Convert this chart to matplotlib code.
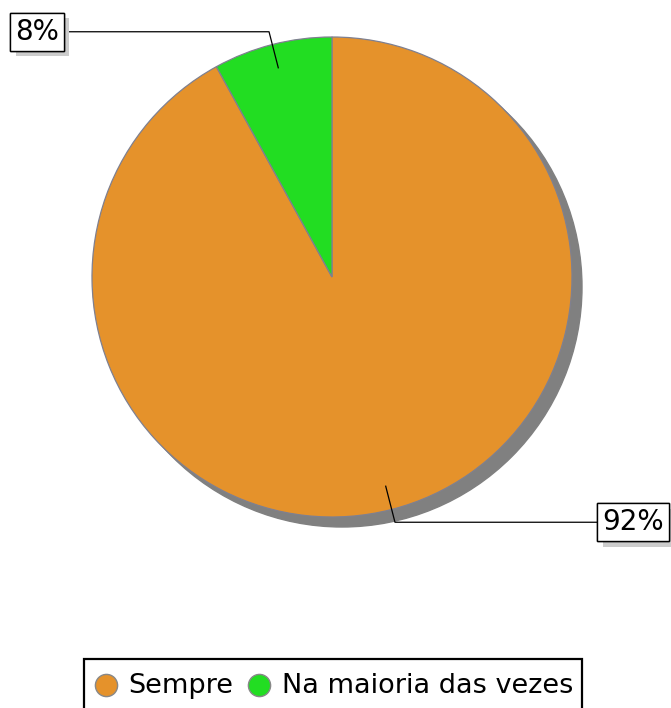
import matplotlib
matplotlib.use("Agg")
import matplotlib.pyplot as plt
import matplotlib.patheffects as pe
from matplotlib.lines import Line2D
from matplotlib.patches import Circle
import numpy as np

categories = ["Sempre", "Na maioria das vezes"]
values = [92, 8]
labels = ["92%", "8%"]
colors = ["#e5922b", "#22dd22"]

W, H = 671, 708
fig = plt.figure(figsize=(W / 100, H / 100), dpi=100)
ax = fig.add_axes([0, 0, 1, 1])

cx, cy, R = 332, H - 277, 240

# shadow
ax.add_patch(Circle((cx + 10, cy - 10), R, color="#808080", zorder=1))

wedges, _ = ax.pie(values, colors=colors, startangle=90, counterclock=False,
                   center=(cx, cy), radius=R, frame=True,
                   wedgeprops=dict(edgecolor="#7f8090", linewidth=0.9))
for w in wedges:
    w.set_zorder(2)
ax.set_xlim(0, W)
ax.set_ylim(0, H)
ax.set_aspect("equal")
ax.axis("off")

# label positions (box centers)
label_x = [633, 37]
for w, lab, lx in zip(wedges, labels, label_x):
    mid = np.deg2rad((w.theta1 + w.theta2) / 2)
    x0, y0 = cx + 0.9 * R * np.cos(mid), cy + 0.9 * R * np.sin(mid)
    x1, y1 = cx + 1.055 * R * np.cos(mid), cy + 1.055 * R * np.sin(mid)
    ax.plot([x0, x1, lx], [y0, y1, y1], color="black", lw=0.9, zorder=3)
    t = ax.text(lx, y1, lab, fontsize=20, ha="center", va="center", zorder=5,
                bbox=dict(boxstyle="square,pad=0.18", fc="white", ec="black", lw=1))
    t.get_bbox_patch().set_path_effects([
        pe.withSimplePatchShadow(offset=(4, -4), shadow_rgbFace="#cccccc", alpha=1),
        pe.Normal()])

handles = [Line2D([], [], ls="none", marker="o", markersize=16,
                  markerfacecolor=c, markeredgecolor="#888888", markeredgewidth=1)
           for c in colors]
leg = fig.legend(handles, categories, loc="upper center", ncol=2,
                 bbox_to_anchor=(333 / W, 1 - 659 / H), fontsize=19.5,
                 frameon=True, fancybox=False, edgecolor="black", framealpha=1,
                 handlelength=1.0, handleheight=1.6, handletextpad=0.35,
                 columnspacing=0.45, borderpad=0.3, borderaxespad=0)
leg.get_frame().set_linewidth(1.6)
# nudge the legend markers down to line up with the text
for h in leg.legend_handles:
    h.set_ydata(np.asarray(h.get_ydata(), dtype=float) - 3.6)

fig.savefig("out.png", dpi=100)
